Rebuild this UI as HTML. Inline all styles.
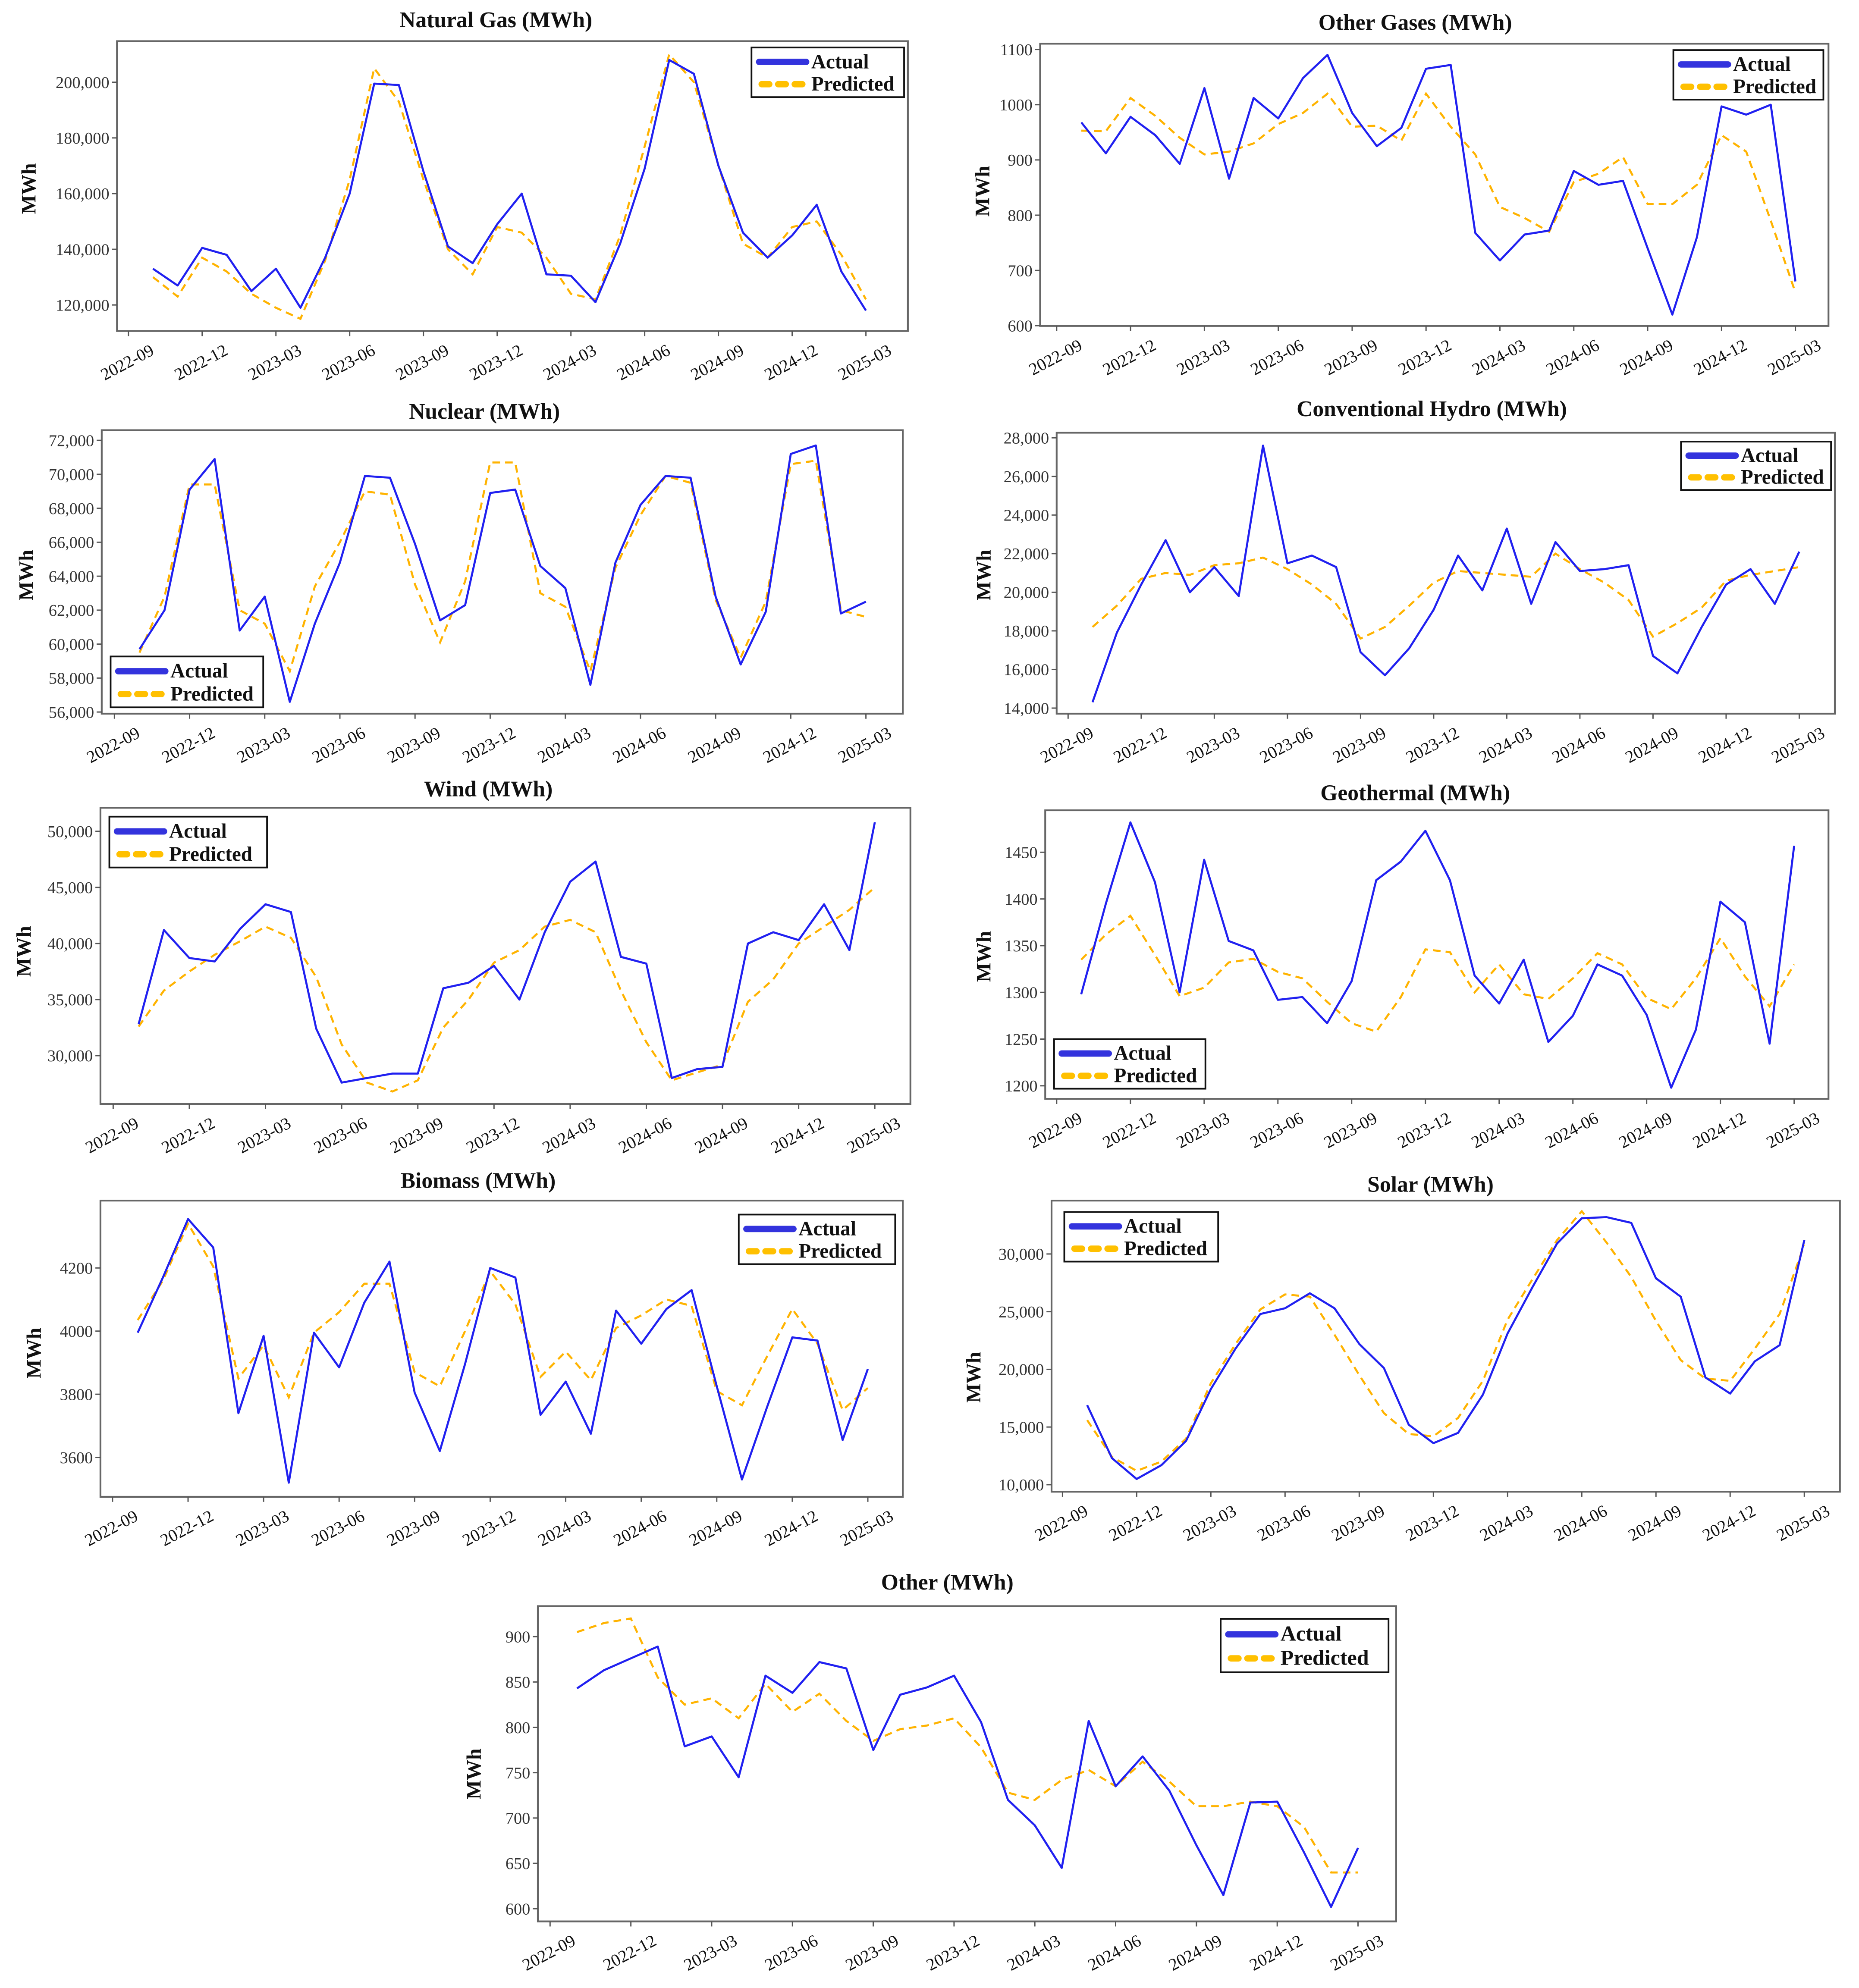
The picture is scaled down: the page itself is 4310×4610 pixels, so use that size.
<!DOCTYPE html>
<html><head><meta charset="utf-8"><title>Actual vs Predicted Generation</title>
<style>html,body{margin:0;padding:0;background:#fff}svg{display:block}</style></head>
<body>
<svg id="chart" xmlns="http://www.w3.org/2000/svg" width="4310" height="4610" viewBox="0 0 1462 1563" font-family="'Liberation Serif', serif">
<rect x="0" y="0" width="1462" height="1563" fill="#fff"/>
</svg>
<script>
const tickLabels = ["2022-09","2022-12","2023-03","2023-06","2023-09","2023-12","2024-03","2024-06","2024-09","2024-12","2025-03"];
const titles = ["Natural Gas (MWh)","Other Gases (MWh)","Nuclear (MWh)","Conventional Hydro (MWh)","Wind (MWh)","Geothermal (MWh)","Biomass (MWh)","Solar (MWh)","Other (MWh)"];
const ngActual = [133000,127000,140500,138000,125000,133000,119000,137000,160000,199500,199000,168000,141000,135000,149000,160000,131000,130500,121000,142000,169000,208000,203000,170000,146000,137000,145000,156000,132000,118000];
const ngPred = [130000,123000,137000,132000,124000,119000,115000,136000,165000,205000,193000,165000,140000,131000,148000,146000,137000,124000,122000,145000,177000,210000,200000,170000,142000,137000,148000,150000,138000,122000];
const ogActual = [968,912,978,945,893,1030,866,1012,975,1048,1090,985,925,958,1065,1072,768,718,765,772,880,855,862,740,620,760,997,982,1000,680];
const ogPred = [953,952,1012,980,940,910,915,930,965,985,1020,960,962,935,1020,960,910,815,795,770,860,875,905,820,820,855,945,915,790,660];
const nuActual = [59700,62000,69100,70900,60800,62800,56600,61200,64800,69900,69800,65900,61400,62300,68900,69100,64600,63300,57600,64800,68200,69900,69800,62800,58800,61900,71200,71700,61800,62500];
const nuPred = [59500,62800,69400,69400,62000,61200,58400,63400,66000,69000,68800,63500,60100,63700,70700,70700,63000,62200,58400,64500,67600,69900,69500,62600,59200,62500,70600,70800,62000,61600];
const hyActual = [14300,17900,20400,22700,20000,21300,19800,27600,21500,21900,21300,16900,15700,17100,19100,21900,20100,23300,19400,22600,21100,21200,21400,16700,15800,18200,20400,21200,19400,22100];
const hyPred = [18200,19300,20700,21000,20900,21400,21500,21800,21200,20400,19400,17600,18200,19300,20500,21100,21000,20900,20800,22000,21200,20500,19600,17700,18400,19200,20600,20900,21100,21300];
const wiActual = [32800,41200,38700,38400,41300,43500,42800,32400,27600,28000,28400,28400,36000,36500,38000,35000,41000,45500,47300,38800,38200,28000,28800,29000,40000,41000,40300,43500,39400,50800];
const wiPred = [32600,35800,37500,39000,40200,41500,40500,37000,31000,27600,26800,27800,32500,35000,38300,39400,41500,42100,41000,35800,31200,27800,28500,29200,34800,36800,40000,41500,43000,45000];
const geActual = [1298,1395,1482,1418,1300,1442,1355,1345,1292,1295,1267,1312,1420,1440,1473,1420,1318,1288,1335,1247,1275,1330,1318,1276,1198,1260,1397,1375,1245,1457];
const gePred = [1335,1362,1382,1340,1296,1305,1332,1336,1322,1315,1290,1267,1258,1295,1346,1343,1300,1330,1298,1293,1315,1342,1330,1294,1282,1315,1358,1317,1285,1330];
const biActual = [3995,4170,4355,4265,3740,3985,3520,3995,3885,4090,4220,3805,3620,3895,4200,4170,3735,3840,3675,4065,3960,4070,4130,3825,3530,3760,3980,3970,3655,3880];
const biPred = [4035,4160,4340,4205,3850,3955,3790,3995,4060,4150,4150,3870,3825,4000,4190,4085,3855,3935,3845,4010,4050,4100,4080,3810,3765,3920,4070,3960,3750,3820];
const soActual = [16900,12300,10500,11700,13800,18300,21800,24800,25300,26600,25300,22200,20100,15200,13600,14500,17800,23100,27100,30900,33100,33200,32700,27900,26300,19300,17900,20700,22100,31200];
const soPred = [15600,12400,11200,12000,14000,18800,22200,25200,26500,26300,23000,19500,16200,14400,14200,15800,19000,24300,27800,31200,33700,31000,28000,24200,20800,19200,19000,21800,24800,30800];
const otActual = [843,863,876,889,779,790,745,857,838,872,865,775,836,844,857,806,720,692,645,807,735,768,730,670,615,717,718,662,602,667];
const otPred = [905,915,920,855,825,832,810,848,817,837,807,785,798,802,810,778,728,720,742,753,735,762,740,713,713,718,713,690,640,640];
const ngTicks = [120000,140000,160000,180000,200000];
const ogTicks = [600,700,800,900,1000,1100];
const nuTicks = [56000,58000,60000,62000,64000,66000,68000,70000,72000];
const hyTicks = [14000,16000,18000,20000,22000,24000,26000,28000];
const wiTicks = [30000,35000,40000,45000,50000];
const geTicks = [1200,1250,1300,1350,1400,1450];
const biTicks = [3600,3800,4000,4200];
const soTicks = [10000,15000,20000,25000,30000];
const otTicks = [600,650,700,750,800,850,900];

const NS = "http://www.w3.org/2000/svg";
const svg = document.getElementById("chart");
function mk(parent, tag, attrs, txt){
  const e = document.createElementNS(NS, tag);
  for (const k in attrs) e.setAttribute(k, attrs[k]);
  if (txt !== undefined) e.textContent = txt;
  parent.appendChild(e);
  return e;
}
const panels = [
 {key:"natural-gas", a:ngActual, p:ngPred, t:ngTicks, comma:true, box:[92,32,714,260], tx:[101,681], yr:[200000,64.3,120000,239.5], title:[390,21], yl:[22,148], leg:[591,37,120,39]},
 {key:"other-gases", a:ogActual, p:ogPred, t:ogTicks, comma:false, box:[818,34,1438,256], tx:[831,1412], yr:[1100,38.5,600,255.8], title:[1113,23], yl:[772,150], leg:[1316,39,118,39]},
 {key:"nuclear", a:nuActual, p:nuPred, t:nuTicks, comma:true, box:[80,338,710,561], tx:[90,681], yr:[72000,346,56000,559.7], title:[381,329], yl:[20,452], leg:[87,516,120,40]},
 {key:"conventional-hydro", a:hyActual, p:hyPred, t:hyTicks, comma:true, box:[831,340,1443,561], tx:[840,1415], yr:[28000,344,14000,556.6], title:[1126,327], yl:[773,452], leg:[1322,347,118,38]},
 {key:"wind", a:wiActual, p:wiPred, t:wiTicks, comma:true, box:[79,635,716,868], tx:[89,688], yr:[50000,653.5,30000,830], title:[384,626], yl:[18,748], leg:[86,642,124,40]},
 {key:"geothermal", a:geActual, p:gePred, t:geTicks, comma:false, box:[822,637,1438,864], tx:[831,1411], yr:[1450,670,1200,853.7], title:[1113,629], yl:[773,752], leg:[829,817,119,39]},
 {key:"biomass", a:biActual, p:biPred, t:biTicks, comma:false, box:[79,944,710,1177], tx:[88.5,682.5], yr:[4200,997,3600,1146], title:[376,934], yl:[26,1064], leg:[581,955,123,39]},
 {key:"solar", a:soActual, p:soPred, t:soTicks, comma:true, box:[827,944,1447,1173], tx:[835.6,1419], yr:[30000,986,10000,1167.5], title:[1125,937], yl:[765,1083], leg:[837,953,121,39]},
 {key:"other", a:otActual, p:otPred, t:otTicks, comma:false, box:[423,1263,1098,1511], tx:[432.6,1068], yr:[900,1287,600,1501], title:[745,1250], yl:[372,1395], leg:[960,1273,132,42]}
];
panels.forEach((P, pi) => {
  const g = mk(svg, "g", {});
  
  
  const [x0,y0,x1,y1] = P.box;
  const xs = i => P.tx[0] + (i + 1) * (P.tx[1] - P.tx[0]) / 30;
  const ys = v => P.yr[1] + (v - P.yr[0]) * (P.yr[3] - P.yr[1]) / (P.yr[2] - P.yr[0]);
  const box = mk(g, "rect", {x:x0, y:y0, width:x1-x0, height:y1-y0, fill:"#fff", stroke:"#666", "stroke-width":1.4});
  
  
  const title = mk(g, "text", {x:P.title[0], y:P.title[1], "text-anchor":"middle", "font-size":17.5, "font-weight":"bold", fill:"#111"}, titles[pi]);
  
  
  const yl = mk(g, "text", {x:0, y:0, transform:`translate(${P.yl[0]+6},${P.yl[1]}) rotate(-90)`, "text-anchor":"middle", "font-size":16, "font-weight":"bold", fill:"#111"}, "MWh");
  
  
  P.t.forEach(v => {
    const y = ys(v);
    const tk = mk(g, "line", {x1:x0-4, x2:x0, y1:y, y2:y, stroke:"#555", "stroke-width":1});
    
    
    const lbl = P.comma ? v.toLocaleString("en-US") : String(v);
    const tl = mk(g, "text", {x:x0-6, y:y+4.5, "text-anchor":"end", "font-size":13, fill:"#333"}, lbl);
    
    
  });
  tickLabels.forEach((lab, k) => {
    const x = xs(3*k - 1);
    const tk = mk(g, "line", {x1:x, x2:x, y1:y1, y2:y1+4, stroke:"#555", "stroke-width":1});
    
    
    const tl = mk(g, "text", {x:0, y:0, transform:`translate(${x+21},${y1+18}) rotate(-28)`, "text-anchor":"end", "font-size":13.5, fill:"#111"}, lab);
    
    
  });
  const ptsP = P.p.map((v,i) => xs(i).toFixed(1) + "," + ys(v).toFixed(1)).join(" ");
  const lp = mk(g, "polyline", {points:ptsP, fill:"none", stroke:"#ffb300", "stroke-width":1.6, "stroke-dasharray":"6,4"});
  
  
  const ptsA = P.a.map((v,i) => xs(i).toFixed(1) + "," + ys(v).toFixed(1)).join(" ");
  const la = mk(g, "polyline", {points:ptsA, fill:"none", stroke:"#2020f0", "stroke-width":1.6, "stroke-linejoin":"round"});
  
  
  const [lx,ly,lw,lh] = P.leg;
  const lg = mk(g, "g", {});
  
  
  mk(lg, "rect", {x:lx, y:ly, width:lw, height:lh, fill:"#fff", stroke:"#111", "stroke-width":1.3});
  const r1 = ly + lh*0.29, r2 = ly + lh*0.74;
  const e1 = mk(lg, "line", {x1:lx+6, x2:lx+43, y1:r1, y2:r1, stroke:"#3333dd", "stroke-width":5, "stroke-linecap":"round"});
  
  
  const e2 = mk(lg, "line", {x1:lx+8, x2:lx+43, y1:r2, y2:r2, stroke:"#ffc000", "stroke-width":5, "stroke-linecap":"round", "stroke-dasharray":"6,7"});
  
  
  const fs = lh > 41 ? 17 : 16;
  const t1 = mk(lg, "text", {x:lx+47, y:r1+5, "font-size":fs, "font-weight":"bold", fill:"#111"}, "Actual");
  
  
  const t2 = mk(lg, "text", {x:lx+47, y:r2+5, "font-size":fs, "font-weight":"bold", fill:"#111"}, "Predicted");
  
  
});
</script>
</body></html>
